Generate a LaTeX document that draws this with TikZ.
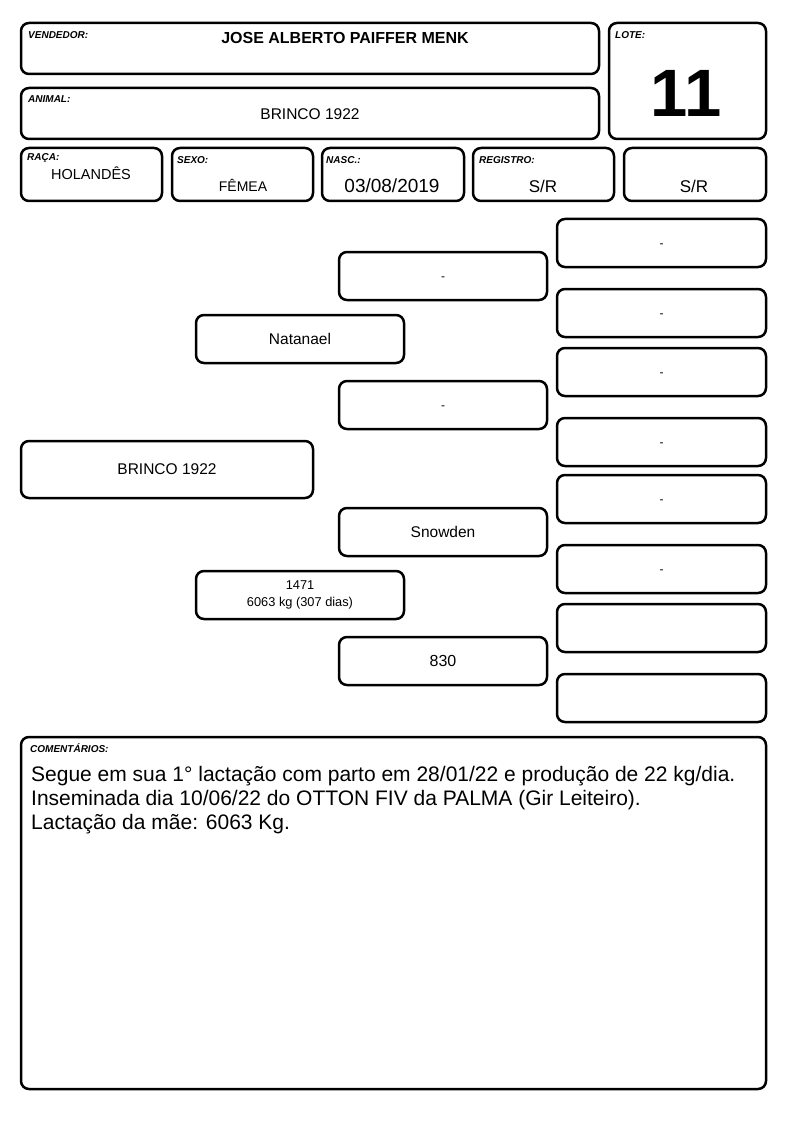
\documentclass[tikz,border=0pt]{standalone}
\usepackage{fontspec}
\setmainfont{Liberation Sans}
\usetikzlibrary{positioning}

\tikzset{
  caixa/.style={draw, line width=2.5pt, rounded corners=8pt, inner sep=0pt},
  rotulo/.style={anchor=west, inner sep=0pt, font=\fontsize{10}{12}\selectfont\bfseries\itshape},
  texto/.style={inner sep=0pt, font=\fontsize{15.5}{18}\selectfont},
  traco/.style={inner sep=0pt, yshift=-3pt, font=\fontsize{12}{14}\selectfont}
}
% caixa por cantos: nome, x1, y1, x2, y2
\newcommand{\bloco}[5]{\node[caixa, minimum width={#4-#2}, minimum height={#5-#3}] (#1) at ({(#2+#4)/2},{(#3+#5)/2}) {};}

\begin{document}
\begin{tikzpicture}[x=1pt, y=-1pt]
  \useasboundingbox (0,0) rectangle (794,1123);

  % cabecalho
  \bloco{vendedor}{21}{23}{599}{74}
  \bloco{animal}{21}{88}{599}{139}
  \bloco{lote}{609}{23}{766}{139}
  \node[rotulo] (lvend) at (28,35) {VENDEDOR:};
  \node[inner sep=0pt, font=\fontsize{16}{19}\selectfont\bfseries] (nvend) at (345,38) {JOSE ALBERTO PAIFFER MENK};
  \node[rotulo] (lanim) at (28,99) {ANIMAL:};
  \node[texto] (nanim) at (310,114) {BRINCO 1922};
  \node[rotulo] (llote) at (615,35) {LOTE:};
  \node[inner sep=0pt, font=\fontsize{67}{72}\selectfont\bfseries] (nlote) at (686,93) {11};

  \bloco{raca}{21}{148}{162}{201}
  \bloco{sexo}{172}{148}{313}{201}
  \bloco{nasc}{322}{148}{464}{201}
  \bloco{registro}{473}{148}{614}{201}
  \bloco{extra}{624}{148}{766}{201}
  \node[rotulo] (lraca) at (27,158) {RAÇA:};
  \node[texto, font=\fontsize{14.5}{17}\selectfont] (nraca) at (91,173) {HOLANDÊS};
  \node[rotulo] (lsexo) at (177,160) {SEXO:};
  \node[texto, font=\fontsize{14}{17}\selectfont] (nsexo) at (243,185) {FÊMEA};
  \node[rotulo] (lnasc) at (326,160) {NASC.:};
  \node[texto, font=\fontsize{19}{22}\selectfont] (nnasc) at (392,186) {03/08/2019};
  \node[rotulo] (lreg) at (479,160) {REGISTRO:};
  \node[texto, font=\fontsize{17}{20}\selectfont] (nreg) at (543,186) {S/R};
  \node[texto, font=\fontsize{17}{20}\selectfont] (nextra) at (694,186) {S/R};

  % genealogia
  \bloco{ped}{21}{441}{313}{498}
  \node[texto] at (ped) {BRINCO 1922};
  \bloco{pai}{196}{315}{404}{363}
  \node[texto] at (pai) {Natanael};
  \bloco{mae}{196}{571}{404}{619}
  \node[inner sep=0pt, align=center, font=\fontsize{12.8}{17}\selectfont] at (mae) {1471\\6063 kg (307 dias)};
  \bloco{avopp}{339}{252}{547}{300}
  \node[traco] at (avopp) {-};
  \bloco{avomp}{339}{381}{547}{429}
  \node[traco] at (avomp) {-};
  \bloco{avopm}{339}{508}{547}{556}
  \node[texto] at (avopm) {Snowden};
  \bloco{avomm}{339}{637}{547}{685}
  \node[texto, font=\fontsize{16}{19}\selectfont] at (avomm) {830};
  \foreach \n/\ya/\t in {1/219/-, 2/289/-, 3/348/-, 4/418/-, 5/475/-, 6/545/-, 7/604/{}, 8/674/{}}{
    \pgfmathsetmacro{\yb}{\ya+48}
    \bloco{bis\n}{557}{\ya}{766}{\yb}
    \node[traco] at (bis\n) {\t};
  }

  % comentarios
  \bloco{coment}{21}{737}{766}{1089}
  \node[rotulo] (lcom) at (30,748) {COMENTÁRIOS:};
  \node[anchor=north west, inner sep=0pt, align=left, font=\fontsize{21}{24}\selectfont] (tcom) at (31,766)
    {Segue em sua 1° lactação com parto em 28/01/22 e produção de 22 kg/dia.\\
     Inseminada dia 10/06/22 do OTTON FIV da PALMA (Gir Leiteiro).\\
     Lactação da mãe: 6063 Kg.};
\end{tikzpicture}
\end{document}
